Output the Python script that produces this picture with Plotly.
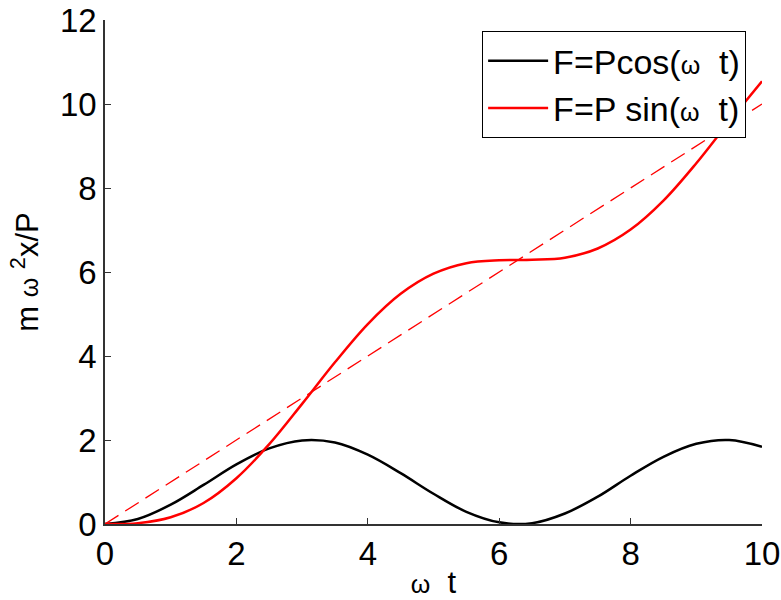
import plotly.graph_objects as go

# omega*t samples
wt = [0, 0.5, 1, 1.5, 2, 2.5, 3, 3.5, 4, 4.5, 5, 5.5, 6, 6.5, 7, 7.5, 8, 8.5, 9, 9.5, 10]
resp_cos = [0, 0.12, 0.46, 0.93, 1.42, 1.80, 1.99, 1.94, 1.65, 1.21, 0.72,
            0.29, 0.04, 0.02, 0.25, 0.65, 1.15, 1.60, 1.91, 2.00, 1.84]
resp_sin = [0, 0.02, 0.16, 0.50, 1.09, 1.90, 2.86, 3.85, 4.76, 5.48, 5.96,
            6.21, 6.28, 6.29, 6.34, 6.56, 7.01, 7.70, 8.59, 9.58, 10.54]
trend_x = [0, 10]
trend_y = [0, 10]

W = "<span style='font-size:25px'>ω</span>"
FONT = "Liberation Sans, Arial, sans-serif"

fig = go.Figure()
fig.add_trace(go.Scatter(x=wt, y=resp_cos, mode="lines", name=f"F=Pcos({W}  t)",
                         line=dict(color="black", width=2.5, shape="spline")))
fig.add_trace(go.Scatter(x=wt, y=resp_sin, mode="lines", name=f"F=P sin({W}  t)",
                         line=dict(color="#ff0000", width=2.5, shape="spline")))
fig.add_trace(go.Scatter(x=trend_x, y=trend_y, mode="lines", showlegend=False,
                         line=dict(color="#ff0000", width=1.3, dash="16px,8px")))

axis = dict(showgrid=False, zeroline=False, showline=True, linecolor="#333",
            linewidth=1.5, ticks="inside", ticklen=6, tickcolor="#333", dtick=2,
            automargin=False, ticklabeloverflow="allow",
            tickfont=dict(size=33, color="black", family=FONT))
fig.update_layout(
    width=781, height=600,
    margin=dict(l=105, r=19, t=20, b=76),
    plot_bgcolor="white", paper_bgcolor="white",
    font=dict(family=FONT, color="black"),
    xaxis=dict(axis, range=[0, 10],
               title=dict(text=f"{W}  t", font=dict(size=31), standoff=4)),
    yaxis=dict(axis, range=[0, 12],
               title=dict(text=f"m {W} <sup>2</sup>x/P", font=dict(size=31), standoff=12)),
    legend=dict(x=0.574, y=0.978, xanchor="left", yanchor="top",
                bordercolor="black", borderwidth=1, bgcolor="white", itemwidth=60,
                font=dict(size=34, family=FONT), tracegroupgap=0),
)

fig.write_html("out.html", config={"displayModeBar": False},
               post_script="document.body.style.margin='0px';")
